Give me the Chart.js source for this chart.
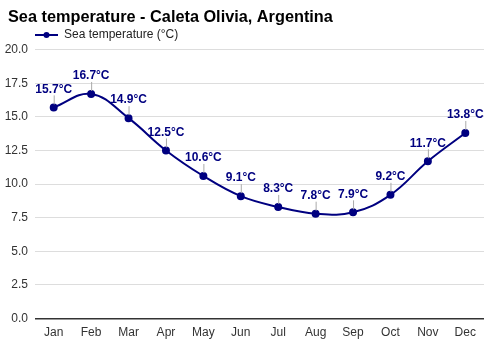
<!DOCTYPE html>
<html>
<head>
<meta charset="utf-8">
<script src="https://cdn.jsdelivr.net/npm/chart.js@4"></script>
<style>
  html, body { margin: 0; padding: 0; background: #fff; }
  #wrap { width: 500px; height: 350px; }
</style>
</head>
<body>
<div id="wrap"><canvas id="chart"></canvas></div>
<script>
const months = ["Jan", "Feb", "Mar", "Apr", "May", "Jun", "Jul", "Aug", "Sep", "Oct", "Nov", "Dec"];
const sea_temp = [15.7, 16.7, 14.9, 12.5, 10.6, 9.1, 8.3, 7.8, 7.9, 9.2, 11.7, 13.8];
const series_name = "Sea temperature (°C)";
const chart_title = "Sea temperature - Caleta Olivia, Argentina";

const navy = "#000080";
const font_family = "'Liberation Sans', Arial, sans-serif";

// value labels with a small grey leader line above each point
const point_labels = {
    id: "point_labels",
    afterDatasetsDraw(chart) {
        let ctx = chart.ctx;
        let meta = chart.getDatasetMeta(0);
        ctx.save();
        meta.data.forEach(function (pt, i) {
            ctx.strokeStyle = "#aaaaaa";
            ctx.lineWidth = 1;
            ctx.beginPath();
            ctx.moveTo(pt.x + 0.5, pt.y - 3);
            ctx.lineTo(pt.x + 0.5, pt.y - 12);
            ctx.stroke();
            ctx.fillStyle = navy;
            ctx.font = "bold 12px " + font_family;
            ctx.textAlign = "center";
            ctx.textBaseline = "bottom";
            ctx.fillText(sea_temp[i].toFixed(1) + "°C", pt.x, pt.y - 12);
        });
        ctx.restore();
    }
};

// legend drawn by hand: line with a dot, then the series name
const line_legend = {
    id: "line_legend",
    afterLayout(chart) {
        // nudge the title a little to the right of the tick labels
        if (chart.titleBlock) {
            chart.titleBlock.left += 5;
            chart.titleBlock.right += 5;
        }
    },
    afterDraw(chart) {
        let ctx = chart.ctx;
        let x = chart.chartArea.left;
        let y = 35;
        ctx.save();
        ctx.strokeStyle = navy;
        ctx.lineWidth = 2;
        ctx.beginPath();
        ctx.moveTo(x, y);
        ctx.lineTo(x + 23, y);
        ctx.stroke();
        ctx.fillStyle = navy;
        ctx.beginPath();
        ctx.arc(x + 11.5, y, 3, 0, Math.PI * 2);
        ctx.fill();
        ctx.fillStyle = "#222";
        ctx.font = "12px " + font_family;
        ctx.textAlign = "left";
        ctx.textBaseline = "middle";
        ctx.fillText(series_name, x + 29, y);
        ctx.restore();
    }
};

let ctx = document.getElementById("chart").getContext("2d");
new Chart(ctx, {
    type: "line",
    data: {
        labels: months,
        datasets: [{
            label: series_name,
            data: sea_temp,
            borderColor: navy,
            backgroundColor: navy,
            borderWidth: 2,
            pointRadius: 3,
            pointHoverRadius: 3,
            tension: 0.4,
            fill: false
        }]
    },
    options: {
        responsive: true,
        maintainAspectRatio: false,
        animation: false,
        layout: { padding: { left: 3, right: 16, top: 6, bottom: 11 } },
        plugins: {
            legend: { display: false },
            tooltip: { enabled: false },
            title: {
                display: true,
                text: chart_title,
                align: "start",
                color: "#000",
                font: { family: font_family, size: 16.3, weight: "bold" },
                padding: { top: 2, bottom: 22 }
            }
        },
        scales: {
            x: {
                offset: true,
                grid: { display: false },
                border: { display: false },
                ticks: { color: "#333", font: { family: font_family, size: 12 }, padding: -1 }
            },
            y: {
                min: 0,
                max: 20,
                afterFit: function (scale) { scale.width = 32; },
                grid: {
                    color: function (c) { return c.tick.value === 0 ? "#333" : "#dddddd"; },
                    lineWidth: function (c) { return c.tick.value === 0 ? 1.5 : 1; },
                    drawTicks: false
                },
                border: { display: false },
                ticks: {
                    stepSize: 2.5,
                    color: "#333",
                    padding: 7,
                    font: { family: font_family, size: 12 },
                    callback: function (v) { return v.toFixed(1); }
                }
            }
        }
    },
    plugins: [point_labels, line_legend]
});
</script>
</body>
</html>
